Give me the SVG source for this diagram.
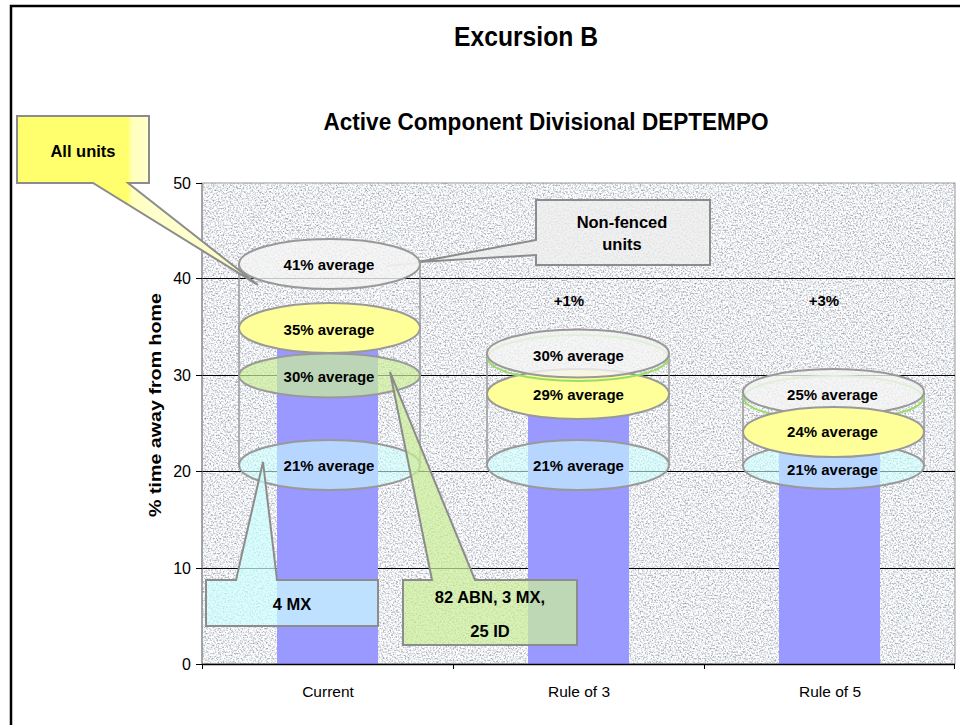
<svg xmlns="http://www.w3.org/2000/svg" width="960" height="725" viewBox="0 0 960 725">
  <defs>
    <!-- speckled stone texture for the plot area -->
    <filter id="granite" x="0" y="0" width="100%" height="100%" color-interpolation-filters="sRGB">
      <feTurbulence type="fractalNoise" baseFrequency="0.6" numOctaves="2" seed="7" result="noise"/>
      <feColorMatrix in="noise" type="matrix" values="0.9 0 0 0 0.47  0.9 0 0 0 0.48  0.85 0 0 0 0.52  0 0 0 0 1" result="grey"/>
      <feComposite in="grey" in2="SourceGraphic" operator="in"/>
    </filter>
    <linearGradient id="yellowBox" gradientUnits="userSpaceOnUse" x1="17" y1="0" x2="149" y2="0">
      <stop offset="0" stop-color="#FFFF66"/>
      <stop offset="0.84" stop-color="#FFFF66"/>
      <stop offset="0.87" stop-color="#FFFFB8"/>
      <stop offset="1" stop-color="#FFFFC8"/>
    </linearGradient>
    <style>
      text { font-family: "Liberation Sans", Arial, sans-serif; fill: #000; }
      .b { font-weight: bold; }
      .avg { font-size: 15px; font-weight: bold; text-anchor: middle; }
      .ylab { font-size: 16px; text-anchor: end; }
      .xlab { font-size: 15.5px; text-anchor: middle; }
      .grid { stroke: #000; stroke-width: 1; }
      .tick { stroke: #000; stroke-width: 1; }
      .wall { stroke: #999; stroke-width: 1.5; fill: none; }
      .bar { fill: #9999FF; }
      .cap { fill: #F4F4F4; fill-opacity: 0.8; stroke: #999; stroke-width: 2; }
      .yel { fill: #FFFF99; stroke: #999; stroke-width: 2; }
      .grn { fill: #CCEE99; fill-opacity: 0.7; stroke: #999; stroke-width: 2; }
      .grnrim { fill: none; stroke: #99DD66; stroke-width: 2; }
      .cyn { fill: #CCFFFF; fill-opacity: 0.6; stroke: #999; stroke-width: 2; }
      .callout { stroke: #8C8C8C; stroke-width: 2; stroke-linejoin: miter; }
      .ctext { font-size: 16.5px; font-weight: bold; text-anchor: middle; }
    </style>
  </defs>

  <!-- page frame -->
  <rect x="11" y="6" width="960" height="730" fill="#FFFFFF" stroke="#000" stroke-width="2.5"/>

  <!-- titles -->
  <text x="526" y="46" class="b" font-size="28" text-anchor="middle" textLength="144" lengthAdjust="spacingAndGlyphs">Excursion B</text>
  <text x="546" y="130" class="b" font-size="23" text-anchor="middle" textLength="445" lengthAdjust="spacingAndGlyphs">Active Component Divisional DEPTEMPO</text>

  <!-- plot area -->
  <g id="plot-area">
    <rect x="202" y="183" width="753" height="481" fill="#DDDDDD"/>
    <rect x="202" y="183" width="753" height="481" fill="#DDDDDD" filter="url(#granite)"/>
    <rect x="202" y="183" width="753" height="481" fill="none" stroke="#999" stroke-width="1"/>
  </g>

  <!-- gridlines -->
  <g id="axes">
    <line class="grid" x1="202" y1="278.5" x2="955" y2="278.5"/>
    <line class="grid" x1="202" y1="375.5" x2="955" y2="375.5"/>
    <line class="grid" x1="202" y1="471.5" x2="955" y2="471.5"/>
    <line class="grid" x1="202" y1="568.5" x2="955" y2="568.5"/>
  </g>

  <!-- bars -->
  <g id="bars">
    <rect class="bar" x="277" y="327" width="101" height="337"/>
    <rect class="bar" x="528" y="394" width="101" height="270"/>
    <rect class="bar" x="779" y="432" width="101" height="232"/>
  </g>

  <g id="axis-lines">
    <line x1="202" y1="183" x2="202" y2="664" stroke="#808080" stroke-width="1"/>
    <line x1="202" y1="664.5" x2="955" y2="664.5" stroke="#000" stroke-width="1.5"/>
    <line class="tick" x1="196" y1="183.5" x2="202" y2="183.5"/>
    <line class="tick" x1="196" y1="278.5" x2="202" y2="278.5"/>
    <line class="tick" x1="196" y1="375.5" x2="202" y2="375.5"/>
    <line class="tick" x1="196" y1="471.5" x2="202" y2="471.5"/>
    <line class="tick" x1="196" y1="568.5" x2="202" y2="568.5"/>
    <line class="tick" x1="196" y1="664.5" x2="202" y2="664.5"/>
    <line class="tick" x1="202.5" y1="664" x2="202.5" y2="669"/>
    <line class="tick" x1="453.5" y1="664" x2="453.5" y2="669"/>
    <line class="tick" x1="704.5" y1="664" x2="704.5" y2="669"/>
    <line class="tick" x1="954.5" y1="664" x2="954.5" y2="669"/>
    <text class="ylab" x="191" y="189">50</text>
    <text class="ylab" x="191" y="284">40</text>
    <text class="ylab" x="191" y="381">30</text>
    <text class="ylab" x="191" y="477">20</text>
    <text class="ylab" x="191" y="574">10</text>
    <text class="ylab" x="191" y="670">0</text>
    <text class="xlab" x="328" y="697">Current</text>
    <text class="xlab" x="579" y="697">Rule of 3</text>
    <text class="xlab" x="830" y="697">Rule of 5</text>
    <text class="b" font-size="17" text-anchor="middle" transform="translate(161 405) rotate(-90)" textLength="224" lengthAdjust="spacingAndGlyphs">% time away from home</text>
  </g>

  <!-- non-fenced callout sits behind the cylinder tops -->
  <g id="callout-nonfenced">
    <path class="callout" d="M536,200 H710 V265 H536 V255 L418,262 L536,240 Z" fill="#EEEEEE" fill-opacity="0.8"/>
    <line x1="386" y1="266" x2="418" y2="263" stroke="#C8C8C8" stroke-width="2"/>
    <text class="ctext" x="622" y="228">Non-fenced</text>
    <text class="ctext" x="622" y="250">units</text>
  </g>

  <!-- cylinder: Current -->
  <g id="cyl-current">
    <line class="wall" x1="239" y1="264" x2="239" y2="465"/>
    <line class="wall" x1="420" y1="264" x2="420" y2="465"/>
    <ellipse class="cyn" cx="329.5" cy="465" rx="90.5" ry="25"/>
    <ellipse class="grn" cx="329.5" cy="375.5" rx="90.5" ry="22"/>
    <ellipse class="yel" cx="329.5" cy="328" rx="90.5" ry="25"/>
    <ellipse class="cap" cx="329.5" cy="264" rx="90.5" ry="25"/>
    <text class="avg" x="329" y="270">41% average</text>
    <text class="avg" x="329" y="335">35% average</text>
    <text class="avg" x="329" y="382">30% average</text>
    <text class="avg" x="329" y="471">21% average</text>
  </g>

  <!-- cylinder: Rule of 3 -->
  <g id="cyl-rule3">
    <line class="wall" x1="487" y1="353" x2="487" y2="465"/>
    <line class="wall" x1="669" y1="353" x2="669" y2="465"/>
    <ellipse class="cyn" cx="578" cy="465" rx="91" ry="25"/>
    <ellipse class="yel" cx="578" cy="394" rx="91" ry="25"/>
    <ellipse class="grnrim" cx="578" cy="358" rx="90" ry="23"/>
    <ellipse class="cap" cx="578" cy="353.5" rx="91" ry="24"/>
    <text class="avg" x="578.5" y="361">30% average</text>
    <text class="avg" x="578.5" y="400">29% average</text>
    <text class="avg" x="578.5" y="471">21% average</text>
    <text class="avg" x="569" y="306">+1%</text>
  </g>

  <!-- cylinder: Rule of 5 -->
  <g id="cyl-rule5">
    <line class="wall" x1="743" y1="392" x2="743" y2="466"/>
    <line class="wall" x1="924" y1="392" x2="924" y2="466"/>
    <ellipse class="cyn" cx="833.5" cy="466" rx="90.5" ry="23"/>
    <ellipse class="grnrim" cx="833.5" cy="398" rx="89.5" ry="22"/>
    <ellipse class="cap" cx="833.5" cy="392" rx="90.5" ry="23"/>
    <ellipse class="yel" cx="833.5" cy="432" rx="90.5" ry="25"/>
    <text class="avg" x="832.5" y="400">25% average</text>
    <text class="avg" x="832.5" y="437">24% average</text>
    <text class="avg" x="832.5" y="475">21% average</text>
    <text class="avg" x="824" y="306">+3%</text>
  </g>

  <!-- callout: all units -->
  <g id="callout-allunits">
    <path class="callout" d="M17,116 H149 V183 H128 L258,285 L93,183 H17 Z" fill="url(#yellowBox)" fill-opacity="0.95"/>
    <text class="ctext" x="83" y="157">All units</text>
  </g>

  <!-- callout: 4 MX -->
  <g id="callout-4mx">
    <path class="callout" d="M206,580 H236 L263,462 L277,580 H378 V626 H206 Z" fill="#CCFFFF" fill-opacity="0.7"/>
    <text class="ctext" x="292" y="610">4 MX</text>
  </g>

  <!-- callout: 82 ABN, 3 MX, 25 ID -->
  <g id="callout-82abn">
    <path class="callout" d="M403,580 H432 L390,372 L475,580 H577 V645 H403 Z" fill="#CCEE99" fill-opacity="0.72"/>
    <text class="ctext" x="490" y="603">82 ABN, 3 MX,</text>
    <text class="ctext" x="490" y="637">25 ID</text>
  </g>
</svg>
